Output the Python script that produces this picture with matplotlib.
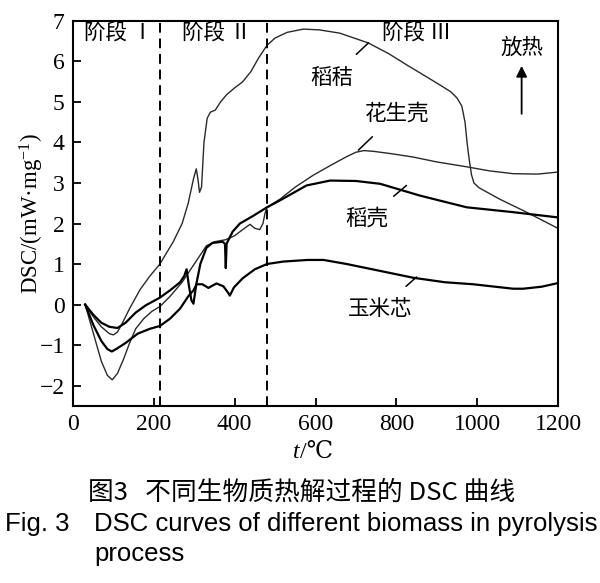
import matplotlib.pyplot as plt
import matplotlib as mpl

mpl.rcParams['font.family'] = ['Liberation Serif', 'Noto Sans CJK SC']
mpl.rcParams['mathtext.fontset'] = 'custom'
mpl.rcParams['mathtext.rm'] = 'Liberation Serif'
mpl.rcParams['mathtext.it'] = 'Liberation Serif:italic'
plt.rcParams['font.size'] = 17
plt.rcParams['axes.linewidth'] = 1.5

CJK = ['Noto Sans CJK SC', 'DejaVu Sans']

# 稻秸 rice straw
straw_t = [30, 50, 70, 90, 100, 110, 120, 140, 166, 190, 215, 248, 270, 285, 298, 305, 309, 313,
           318, 324, 332, 340, 352, 365, 380, 400, 420, 440, 460, 480, 500, 530, 570, 610, 660,
           730, 780, 825, 870, 908, 935, 950, 962, 970, 975, 980, 986, 992, 1005, 1056, 1122, 1200]
straw_dsc = [0, -0.3, -0.55, -0.72, -0.75, -0.68, -0.5, -0.1, 0.37, 0.7, 1.0, 1.55, 2.0, 2.5, 3.1,
             3.35, 3.1, 2.77, 2.9, 4.0, 4.6, 4.75, 4.8, 5.0, 5.18, 5.35, 5.5, 5.75, 6.1, 6.4, 6.58,
             6.72, 6.8, 6.78, 6.7, 6.46, 6.2, 5.92, 5.65, 5.42, 5.25, 5.1, 4.9, 4.5, 4.0, 3.6, 3.2,
             3.0, 2.88, 2.6, 2.28, 1.88]

# 花生壳 peanut shell
peanut_t = [30, 50, 70, 85, 97, 110, 125, 140, 155, 175, 195, 215, 240, 270, 300, 330, 350, 378,
            400, 420, 438, 450, 462, 470, 475, 480, 512, 550, 594, 640, 677, 700, 720, 745, 790,
            842, 900, 974, 1030, 1089, 1150, 1200]
peanut_dsc = [0, -0.7, -1.4, -1.75, -1.86, -1.7, -1.35, -0.95, -0.6, -0.35, -0.17, -0.05, 0.2,
              0.55, 1.0, 1.45, 1.55, 1.6, 1.7, 1.85, 1.98, 1.88, 1.85, 2.0, 2.25, 2.4, 2.6, 2.9,
              3.19, 3.45, 3.65, 3.76, 3.8, 3.78, 3.72, 3.64, 3.52, 3.4, 3.3, 3.23, 3.22, 3.27]

# 稻壳 rice husk
husk_t = [30, 50, 70, 90, 110, 130, 155, 180, 215, 240, 265, 275, 281, 287, 293, 298, 305, 315,
          330, 345, 370, 376, 378, 380, 395, 413, 446, 480, 512, 578, 636, 700, 760, 858, 974,
          1089, 1200]
husk_dsc = [0, -0.25, -0.45, -0.55, -0.58, -0.45, -0.2, -0.02, 0.17, 0.35, 0.55, 0.7, 0.87, 0.45,
            0.1, 0.02, 0.5, 1.0, 1.4, 1.52, 1.55, 1.5, 0.9, 1.5, 1.8, 2.0, 2.19, 2.4, 2.57, 2.94,
            3.06, 3.05, 2.98, 2.69, 2.4, 2.28, 2.15]

# 玉米芯 corn cob
corn_t = [30, 50, 70, 85, 96, 110, 130, 160, 190, 215, 240, 265, 285, 298, 306, 320, 335, 355,
          372, 383, 388, 398, 420, 450, 480, 520, 580, 620, 677, 750, 842, 920, 990, 1089, 1114,
          1160, 1200]
corn_dsc = [0, -0.5, -0.9, -1.1, -1.16, -1.08, -0.95, -0.72, -0.6, -0.53, -0.35, -0.1, 0.2, 0.35,
            0.5, 0.5, 0.41, 0.52, 0.45, 0.3, 0.22, 0.42, 0.65, 0.87, 1.0, 1.06, 1.1, 1.1, 1.0,
            0.85, 0.66, 0.55, 0.5, 0.39, 0.39, 0.44, 0.53]

stage_bounds = [215, 480]

fig = plt.figure(figsize=(6.0, 5.83), dpi=100)
ax = fig.add_axes([0.1217, 0.304, 0.8083, 0.66])

ax.plot(straw_t, straw_dsc, color='#2a2a2a', linewidth=1.0)
ax.plot(peanut_t, peanut_dsc, color='#2a2a2a', linewidth=1.0)
ax.plot(husk_t, husk_dsc, color='black', linewidth=1.6)
ax.plot(corn_t, corn_dsc, color='black', linewidth=1.6)

for b in stage_bounds:
    ax.axvline(b, color='black', linestyle=(0, (5, 3)), linewidth=1.4)

ax.set_xlim(0, 1200)
ax.set_ylim(-2.5, 7)
ax.set_xticks(range(0, 1201, 200))
ax.set_yticks(range(-2, 8))
ax.set_yticklabels(['\u2212' + str(-v) if v < 0 else str(v) for v in range(-2, 8)])
ax.tick_params(direction='in', length=6, width=1.3, pad=6)

# x label: italic t + /℃
ax.text(0.468, -0.095, 't', style='italic', transform=ax.transAxes, ha='right', va='top')
ax.text(0.468, -0.095, '/\u2103', transform=ax.transAxes, ha='left', va='top',
        family=['Liberation Serif', 'DejaVu Serif', 'DejaVu Sans'])
ax.set_ylabel('DSC/(mW\u00b7mg$^{-1}$)', fontsize=16.5)
ax.yaxis.set_label_coords(-0.055, 0.5)

# stage labels
ax.text(112, 6.71, '阶段 \u2160', family=CJK, fontsize=15.5, ha='center', va='center')
ax.text(355, 6.71, '阶段 \u2161', family=CJK, fontsize=15.5, ha='center', va='center')
ax.text(850, 6.71, '阶段 \u2162', family=CJK, fontsize=15.5, ha='center', va='center')

# curve labels with leader lines
lab_kw = dict(family=CJK, fontsize=15.5, ha='center', va='center')
line_kw = dict(arrowstyle='-', color='black', lw=1.1, shrinkA=10, shrinkB=0)
ax.annotate('稻秸', xy=(731, 6.46), xytext=(640, 5.6), arrowprops=line_kw, **lab_kw)
ax.annotate('花生壳', xy=(706, 3.81), xytext=(801, 4.72), arrowprops=line_kw, **lab_kw)
ax.annotate('稻壳', xy=(825, 2.94), xytext=(727, 2.11), arrowprops=line_kw, **lab_kw)
ax.annotate('玉米芯', xy=(850, 0.68), xytext=(760, -0.12), arrowprops=line_kw, **lab_kw)

ax.text(1110, 6.33, '放热', **lab_kw)
ax.annotate('', xy=(1110, 5.96), xytext=(1110, 4.64),
            arrowprops=dict(arrowstyle='-|>', color='black', lw=1.3, mutation_scale=16))

fig.text(0.503, 1 - 493 / 583, '图3   不同生物质热解过程的 DSC 曲线', family=['Noto Sans CJK SC'],
         fontsize=18.5, ha='center', va='center')
fig.text(5 / 600, 1 - 524 / 583, 'Fig. 3', family=['Liberation Sans'], fontsize=18.5,
         ha='left', va='center')
fig.text(94 / 600, 1 - 524 / 583, 'DSC curves of different biomass in pyrolysis',
         family=['Liberation Sans'], fontsize=18.5, ha='left', va='center')
fig.text(94 / 600, 1 - 554 / 583, 'process', family=['Liberation Sans'], fontsize=18.5,
         ha='left', va='center')

plt.savefig('out.png', dpi=100)
